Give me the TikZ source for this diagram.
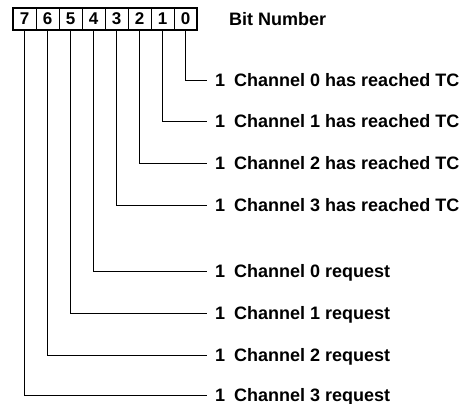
\documentclass[tikz,border=0pt]{standalone}
\usepackage{fontspec}
\setmainfont{Liberation Sans}
\usetikzlibrary{positioning}

\begin{document}
\begin{tikzpicture}[x=1pt, y=-1pt,
    cell/.style={rectangle, draw, line width=0.9pt, minimum width=23pt, minimum height=21pt, inner sep=0pt, font=\bfseries\fontsize{17}{17}\selectfont},
    bitdesc/.style={anchor=west, inner xsep=8pt, inner ysep=0pt, text height=12.9pt, text depth=0pt, font=\bfseries\fontsize{18}{18}\selectfont},
    wire/.style={line width=0.8pt}
]
\useasboundingbox (0,0) rectangle (471,404);

% Register
\foreach \b in {0,...,7}
    \node[cell] (b\b) at ({185.5-23*\b}, 19) {\b};
\draw[line width=2pt] (b7.north west) rectangle (b0.south east);
\node[bitdesc, inner xsep=0pt] (title) at (229, 19) {Bit Number};

% Terminal count bits
\node[bitdesc] (d0) at (207, 80) {1\hspace{0.5em}Channel 0 has reached TC};
\node[bitdesc] (d1) at (207, 121) {1\hspace{0.5em}Channel 1 has reached TC};
\node[bitdesc] (d2) at (207, 163) {1\hspace{0.5em}Channel 2 has reached TC};
\node[bitdesc] (d3) at (207, 205) {1\hspace{0.5em}Channel 3 has reached TC};

% Request bits
\node[bitdesc] (d4) at (207, 271) {1\hspace{0.5em}Channel 0 request};
\node[bitdesc] (d5) at (207, 313) {1\hspace{0.5em}Channel 1 request};
\node[bitdesc] (d6) at (207, 355) {1\hspace{0.5em}Channel 2 request};
\node[bitdesc] (d7) at (207, 395) {1\hspace{0.5em}Channel 3 request};

\foreach \b in {0,...,7}
    \draw[wire] (b\b.south) |- (d\b.west);

\end{tikzpicture}
\end{document}
